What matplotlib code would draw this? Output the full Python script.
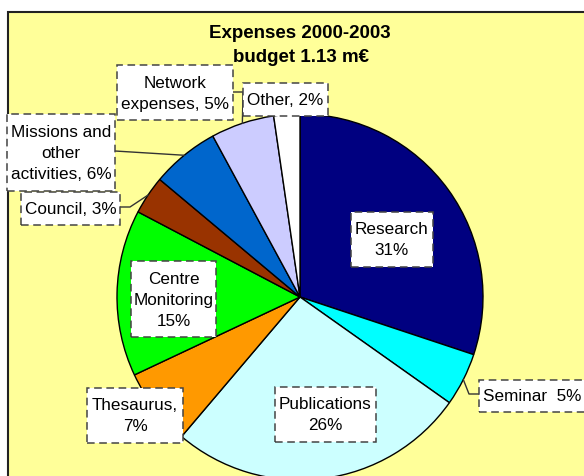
import numpy as np
import matplotlib
matplotlib.use("Agg")
import matplotlib.pyplot as plt
from matplotlib.patches import Rectangle

plt.rcParams['font.family'] = ['Liberation Sans', 'DejaVu Sans']

# data
categories = ['Research', 'Seminar', 'Publications', 'Thesaurus', 'Centre Monitoring',
              'Council', 'Missions and other activities', 'Network expenses', 'Other']
shares = [30.1, 4.7, 26.4, 6.8, 14.7, 3.4, 6.0, 5.6, 2.3]
label_texts = ['Research\n31%', 'Seminar  5%', 'Publications\n26%', 'Thesaurus,\n7%',
               'Centre\nMonitoring\n15%', 'Council, 3%', 'Missions and\nother\nactivities, 6%',
               'Network\nexpenses, 5%', 'Other, 2%']
colors = ['#000080', '#00FFFF', '#CCFFFF', '#FF9900', '#00FF00',
          '#993300', '#0066CC', '#CCCCFF', '#FFFFFF']
title_lines = ['Expenses 2000-2003', 'budget 1.13 m\u20ac']

W, H = 584, 477


def py(y):
    # pixel row (from top) -> data y
    return H - y


# label boxes in pixels: (left, top, right, bottom), text anchor
boxes = {
    'Research': (351, 213, 433, 268, 'center'),
    'Seminar': (479, 381, 600, 413, 'left'),
    'Publications': (275, 388, 376, 443, 'center'),
    'Thesaurus': (87, 389, 183, 444, 'center'),
    'Centre Monitoring': (131, 262, 216, 338, 'center'),
    'Council': (21, 193, 120, 226, 'center'),
    'Missions and other activities': (7, 115, 115, 192, 'center'),
    'Network expenses': (117, 66, 233, 121, 'center'),
    'Other': (243, 84, 328, 117, 'center'),
}
# leader line elbows (pixels), drawn from the slice rim
leaders = {
    'Seminar': [(469, 395), (479, 395)],
    'Council': [(130, 208), (120, 208)],
    'Missions and other activities': [(115, 152)],
    'Network expenses': [(243, 93), (233, 93)],
}

fig = plt.figure(figsize=(W / 100, H / 100), dpi=100)
ax = fig.add_axes([0, 0, 1, 1])

# chart area
ax.add_patch(Rectangle((8, -20), W + 40, py(13) + 20, facecolor='#FFFF99',
                       edgecolor='#222222', lw=1.5, zorder=0))

cx, cy, r = 300, py(298), 183
wedges, _ = ax.pie(shares, colors=colors, startangle=90, counterclock=False,
                   center=(cx, cy), radius=r, frame=True,
                   wedgeprops=dict(edgecolor='black', linewidth=1))
ax.set_xlim(0, W)
ax.set_ylim(0, H)
ax.set_aspect('auto')
ax.axis('off')

for w, name in zip(wedges, categories):
    if name in leaders:
        mid = np.deg2rad((w.theta1 + w.theta2) / 2)
        xs = [cx + r * np.cos(mid)] + [p[0] for p in leaders[name]]
        ys = [cy + r * np.sin(mid)] + [py(p[1]) for p in leaders[name]]
        ax.plot(xs, ys, color='#333333', lw=1, zorder=3)

for name, txt in zip(categories, label_texts):
    x0, y0, x1, y1, ha = boxes[name]
    ax.add_patch(Rectangle((x0, py(y1)), x1 - x0, y1 - y0, facecolor='white',
                           edgecolor='#444444', lw=1.1, linestyle=(0, (5, 3)), zorder=4))
    tx = (x0 + x1) / 2 if ha == 'center' else x0 + 4
    ax.text(tx, py((y0 + y1) / 2), txt, ha=ha, va='center', fontsize=12.3,
            linespacing=1.5, zorder=5)

ax.text(300, py(34), title_lines[0], ha='center', va='center', fontsize=13.5, fontweight='bold')
ax.text(301, py(58), title_lines[1], ha='center', va='center', fontsize=13.5, fontweight='bold')

fig.savefig('out.png', dpi=100)
